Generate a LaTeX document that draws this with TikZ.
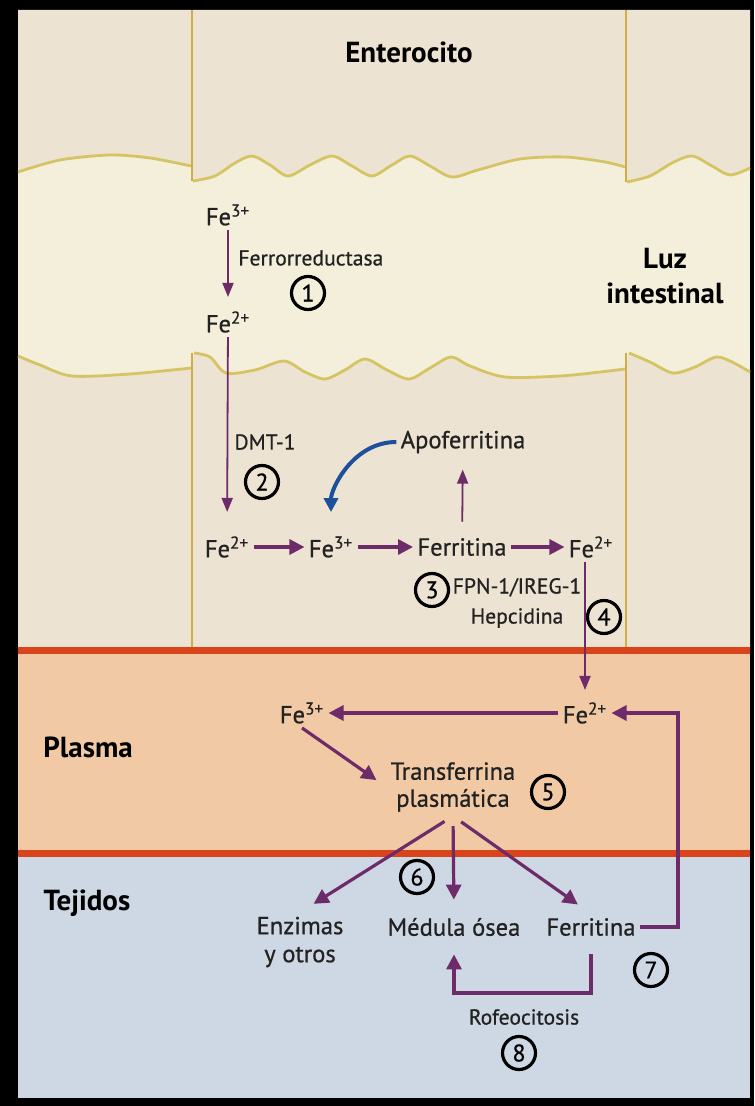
\documentclass[tikz,border=0pt]{standalone}
\usepackage{fontspec}
\setmainfont{PT Sans}
\newfontfamily\grueso[FakeBold=0.7]{PT Sans}
\usepackage{tikz}
\usetikzlibrary{arrows.meta,positioning,calc}
\definecolor{tinta}{HTML}{222222}
\definecolor{celula}{HTML}{EDE3D2}
\definecolor{lumen}{HTML}{F3EFDB}
\definecolor{plasma}{HTML}{F1C9A4}
\definecolor{tejido}{HTML}{CED7E4}
\definecolor{borde}{HTML}{D9441A}
\definecolor{microv}{HTML}{D6C464}
\definecolor{pared}{HTML}{CFAE45}
\definecolor{morado}{HTML}{6E2B6A}
\definecolor{azul}{HTML}{1D4F9C}
\newcommand{\fe}[1]{Fe\textsuperscript{#1}}

\begin{document}
\begin{tikzpicture}[x=0.5pt,y=-0.5pt,
    lbl/.style={text=tinta,inner sep=2pt,font=\grueso\fontsize{12.3}{14}\selectfont},
    chico/.style={text=tinta,inner sep=2pt,align=center,font=\grueso\fontsize{10.8}{15}\selectfont},
    zona/.style={text=black,align=center,font=\fontsize{14.5}{17.5}\selectfont\bfseries},
    paso/.style={circle,draw=black,line width=1.6pt,minimum size=16.5pt,inner sep=0pt,
                 font=\grueso\fontsize{12}{12}\selectfont},
    flecha/.style={draw=morado,line width=1.6pt,-{Triangle[length=7.5pt,width=7.5pt]}},
    fina/.style={draw=morado,line width=0.9pt,-{Triangle[length=7pt,width=5.5pt]}}]
  \useasboundingbox (0,0) rectangle (754,1106);
  \fill[black] (0,0) rectangle (754,1106);
  \fill[lumen] (18,10) rectangle (750,650);
  \fill[plasma] (18,650) rectangle (750,853);
  \fill[tejido] (18,853) rectangle (750,1098);

  % enterocitos
  \fill[celula] (750,10) -- (18,10)
    -- plot[smooth] coordinates {(18,172) (60,160) (110,155) (150,158) (191,166)}
    -- plot[smooth] coordinates {(193,181) (215,176) (235,163) (252,156) (270,165) (288,176)
       (310,165) (332,156) (352,166) (372,176) (392,165) (410,156) (430,166) (452,177)
       (478,170) (520,159) (565,157) (605,162) (625,167)}
    -- plot[smooth] coordinates {(627,182) (650,176) (672,163) (692,156) (712,166) (730,175) (750,168)}
    -- cycle;
  \fill[celula] (18,650)
    -- plot[smooth] coordinates {(18,356) (40,365) (72,376) (130,374) (191,368)}
    -- plot[smooth] coordinates {(194,353) (210,357) (226,373) (255,370) (284,361) (305,372)
       (325,379) (345,370) (365,359) (387,370) (409,379) (430,368) (451,357) (470,366)
       (505,377) (560,376) (600,372) (625,369)}
    -- plot[smooth] coordinates {(629,353) (650,362) (673,373) (695,367) (716,357) (732,362) (750,372)}
    -- (750,650) -- cycle;
  \draw[pared,line width=0.8pt] (192,10) -- (192,181) (626,10) -- (626,182)
    (192,353) -- (192,650) (626,353) -- (626,650);
  \draw[microv,line width=1.4pt]
    plot[smooth] coordinates {(18,172) (60,160) (110,155) (150,158) (191,166)}
    plot[smooth] coordinates {(193,181) (215,176) (235,163) (252,156) (270,165) (288,176)
       (310,165) (332,156) (352,166) (372,176) (392,165) (410,156) (430,166) (452,177)
       (478,170) (520,159) (565,157) (605,162) (625,167)}
    plot[smooth] coordinates {(627,182) (650,176) (672,163) (692,156) (712,166) (730,175) (750,168)};
  \draw[microv,line width=1.4pt]
    plot[smooth] coordinates {(18,356) (40,365) (72,376) (130,374) (191,368)}
    plot[smooth] coordinates {(194,353) (210,357) (226,373) (255,370) (284,361) (305,372)
       (325,379) (345,370) (365,359) (387,370) (409,379) (430,368) (451,357) (470,366)
       (505,377) (560,376) (600,372) (625,369)}
    plot[smooth] coordinates {(629,353) (650,362) (673,373) (695,367) (716,357) (732,362) (750,372)};
  \draw[borde,line width=3.5pt] (18,650) -- (750,650) (18,853) -- (750,853);

  \node[zona] (entero) at (409,52) {Enterocito};
  \node[zona] (luz) at (665,276) {Luz\\intestinal};
  \node[zona] (plasmalbl) at (88,747) {Plasma};
  \node[zona] (tejidos) at (87,903) {Tejidos};

  \node[lbl] (fe3l) at (228,215) {\fe{3+}};
  \node[lbl] (fe2l) at (228,322) {\fe{2+}};
  \node[chico,anchor=west] (ferrored) at (234,258) {Ferrorreductasa};
  \node[paso] (p1) at (308,293) {1};

  \node[chico] (dmt) at (265,442) {DMT-1};
  \node[paso] (p2) at (262,482) {2};
  \node[lbl] (apo) at (463,442) {Apoferritina};
  \node[lbl] (fe2a) at (227,547) {\fe{2+}};
  \node[lbl] (fe3a) at (331,547) {\fe{3+}};
  \node[lbl] (ferr) at (462,547) {Ferritina};
  \node[lbl] (fe2b) at (591,547) {\fe{2+}};
  \node[paso] (p3) at (432,590) {3};
  \node[chico] (fpn) at (517,603) {FPN-1/IREG-1\\Hepcidina};
  \node[paso] (p4) at (604,617) {4};

  \node[lbl] (fe3p) at (302,713) {\fe{3+}};
  \node[lbl] (fe2p) at (585,713) {\fe{2+}};
  \node[lbl,align=center,font=\grueso\fontsize{12.3}{13.5}\selectfont] (transf) at (453,787)
    {Transferrina\\plasmática};
  \node[paso] (p5) at (548,792) {5};

  \node[paso] (p6) at (417,877) {6};
  \node[lbl,align=center,font=\grueso\fontsize{12.3}{14}\selectfont] (enz) at (300,942) {Enzimas\\y otros};
  \node[lbl] (medula) at (454,927) {Médula ósea};
  \node[lbl] (ferrt) at (591,927) {Ferritina};
  \node[paso] (p7) at (651,970) {7};
  \node[chico] (rofeo) at (524,1017) {Rofeocitosis};
  \node[paso] (p8) at (519,1053) {8};

  \coordinate (esq) at (678,713);
  \coordinate (lazo) at (520,993);

  \draw[fina,shorten >=5pt] (fe3l) -- (fe2l);
  \draw[fina,shorten >=10pt] (fe2l) -- (fe2a);
  \draw[azul,line width=2pt,-{Triangle[length=7pt,width=7pt]},shorten >=10pt]
    (apo.west) to[out=180,in=90] (fe3a.north);
  \draw[fina,shorten <=6pt,shorten >=6pt] (ferr) -- (apo);
  \draw[flecha] (fe2a) -- (fe3a);
  \draw[flecha] (fe3a) -- (ferr);
  \draw[flecha] (ferr) -- (fe2b);
  \draw[fina,shorten >=4pt] (fe2b.south -| fe2p.north) -- (fe2p.north);

  \draw[flecha] (fe2p) -- (fe3p);
  \draw[flecha,shorten >=6pt] (fe3p.south) -- (transf.west);
  \draw[flecha,shorten <=5pt,shorten >=8pt] (transf.south) -- (enz.north);
  \draw[flecha,shorten <=5pt,shorten >=7pt] (transf.south) -- (medula.north);
  \draw[flecha,shorten <=5pt,shorten >=8pt] (transf.south) -- (ferrt.north);
  \draw[flecha] (ferrt.east) -| (esq) -- (fe2p.east);
  \draw[flecha,shorten <=7pt,shorten >=7pt] (ferrt.south) |- (lazo) -| (medula.south);
\end{tikzpicture}
\end{document}
